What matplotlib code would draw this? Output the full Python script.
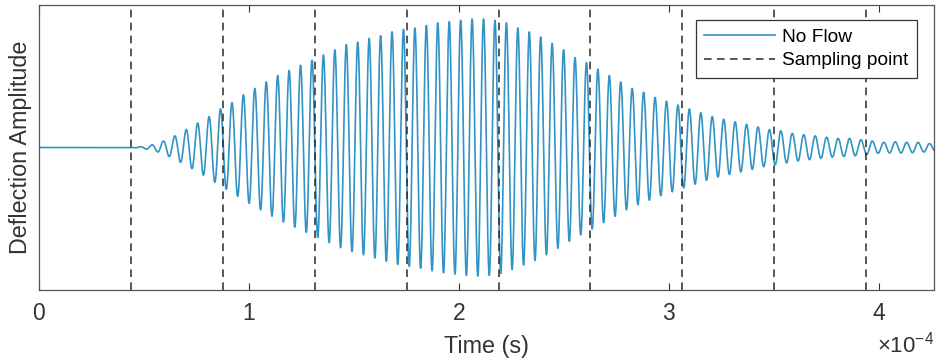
import numpy as np
import matplotlib.pyplot as plt
from matplotlib.ticker import ScalarFormatter

plt.rcParams['font.family'] = ['Liberation Sans', 'DejaVu Sans']
plt.rcParams['mathtext.fontset'] = 'custom'
plt.rcParams['mathtext.rm'] = 'Liberation Sans'

# signal
t_start = 0.4375e-4          # excitation starts at the first sampling point (s)
period = 5.445e-6            # carrier period (s)
peak_phase = 0.83            # first peak, in periods after t_start
# amplitude of each successive positive peak (normalised to the largest)
peak_amps = [0.005, 0.02, 0.05, 0.09, 0.14, 0.19, 0.24, 0.30, 0.35, 0.41,
             0.46, 0.51, 0.56, 0.60, 0.64, 0.68, 0.72, 0.76, 0.80, 0.82,
             0.85, 0.87, 0.90, 0.92, 0.93, 0.95, 0.97, 0.98, 0.99, 1.00,
             1.00, 0.99, 0.97, 0.93, 0.90, 0.86, 0.81, 0.76, 0.70, 0.66,
             0.61, 0.56, 0.51, 0.46, 0.43, 0.39, 0.36, 0.33, 0.30, 0.27,
             0.24, 0.22, 0.20, 0.18, 0.16, 0.14, 0.13, 0.11, 0.10, 0.09,
             0.08, 0.07, 0.07, 0.06, 0.05, 0.04, 0.045, 0.04, 0.04, 0.03,
             0.03]
sampling_points = [0.4375e-4, 0.875e-4, 1.3125e-4, 1.75e-4, 2.1875e-4,
                   2.625e-4, 3.0625e-4, 3.5e-4, 3.9375e-4]
t_end = 4.26e-4

t = np.linspace(0, t_end, 30000)
peak_t = t_start + (np.arange(len(peak_amps)) + peak_phase) * period
env = np.interp(t, np.r_[t_start, peak_t], np.r_[0.0, peak_amps], left=0.0)
y = env * np.cos(2 * np.pi * ((t - t_start) / period - peak_phase))
y[t < t_start] = 0.0

fig = plt.figure(figsize=(9.36, 3.58), dpi=100)
ax = fig.add_axes([0.0417, 0.19, 0.956, 0.796])

ax.plot(t, y, color='#3193c6', lw=1.2, label='No Flow')
for i, sp in enumerate(sampling_points):
    ax.axvline(sp, color='#2a2a2a', ls=(0, (5, 3.5)), lw=1.1,
               label='Sampling point' if i == 0 else None)

ax.set_xlim(0, t_end)
ax.set_ylim(-1.109, 1.109)
ax.set_xticks([0, 1e-4, 2e-4, 3e-4, 4e-4])
ax.set_yticks([])
fmt = ScalarFormatter(useMathText=True)
fmt.set_powerlimits((-3, 3))
ax.xaxis.set_major_formatter(fmt)
ax.xaxis.get_offset_text().set_visible(False)
fig.text(0.998, 0.0, r'$\times10^{-4}$', ha='right', va='bottom',
         fontsize=16, color='#333333')

ax.tick_params(axis='x', direction='in', top=True, length=5, width=0.8,
               labelsize=16.5, colors='#333333', pad=9)
for s in ax.spines.values():
    s.set_color('#555555')
    s.set_linewidth(0.9)

ax.set_xlabel('Time (s)', fontsize=16.8, color='#333333', labelpad=7)
ax.set_ylabel('Deflection Amplitude', fontsize=16.8, color='#333333', labelpad=5)

leg = ax.legend(loc='upper right', bbox_to_anchor=(0.981, 0.947), fontsize=13.8,
                fancybox=False, edgecolor='#333333', framealpha=1,
                handlelength=3.7, borderpad=0.45, labelspacing=0.3,
                handletextpad=0.35, borderaxespad=0)
leg.get_frame().set_linewidth(0.9)

fig.savefig('out.png', dpi=100)
